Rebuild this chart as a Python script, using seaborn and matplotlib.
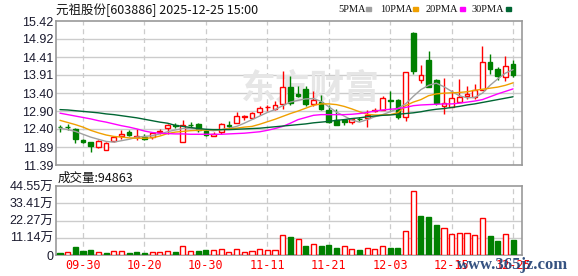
import numpy as np
import pandas as pd
import matplotlib
matplotlib.use("Agg")
import matplotlib.pyplot as plt
import seaborn as sns

# ---------------- data ----------------
dates = ["09-25", "09-26", "09-29", "09-30",
         "10-09", "10-10", "10-13", "10-14", "10-15", "10-16", "10-17", "10-20",
         "10-21", "10-22", "10-23", "10-24", "10-27", "10-28", "10-29", "10-30",
         "10-31", "11-03", "11-04", "11-05", "11-06", "11-07", "11-10", "11-11",
         "11-12", "11-13", "11-14", "11-17", "11-18", "11-19", "11-20", "11-21",
         "11-24", "11-25", "11-26", "11-27", "11-28", "12-01", "12-02", "12-03",
         "12-04", "12-05", "12-08", "12-09", "12-10", "12-11", "12-12", "12-15",
         "12-16", "12-17", "12-18", "12-19", "12-22", "12-23", "12-24", "12-25"]

open_ = [12.45, 12.45, 12.40, 12.09, 12.03, 11.88, 11.82, 12.05, 12.19, 12.30,
         12.17, 12.17, 12.17, 12.30, 12.42, 12.51, 12.03, 12.52, 12.54, 12.33,
         12.20, 12.30, 12.50, 12.56, 12.72, 12.70, 12.87, 13.00, 12.97, 13.10,
         13.58, 13.38, 13.53, 13.11, 13.15, 12.94, 12.66, 12.66, 12.59, 12.68,
         12.71, 12.91, 12.94, 13.20, 13.22, 12.73, 15.08, 13.77, 14.32, 13.76,
         13.05, 13.02, 13.16, 13.32, 13.29, 13.48, 14.28, 14.09, 13.86, 14.21]
close = [12.44, 12.44, 12.13, 12.04, 11.93, 12.07, 12.00, 12.17, 12.25, 12.24,
         12.21, 12.12, 12.28, 12.34, 12.51, 12.47, 12.51, 12.51, 12.38, 12.24,
         12.27, 12.54, 12.49, 12.76, 12.76, 12.85, 12.98, 13.01, 13.08, 13.58,
         13.13, 13.31, 13.10, 13.22, 12.96, 12.59, 12.52, 12.59, 12.68, 12.67,
         12.80, 12.93, 13.27, 13.19, 12.73, 14.00, 14.02, 13.90, 13.58, 13.13,
         13.13, 13.27, 13.30, 13.39, 13.50, 14.28, 14.09, 13.88, 14.16, 13.90]
high = [12.51, 12.54, 12.42, 12.12, 12.04, 12.10, 12.02, 12.20, 12.37, 12.36,
        12.40, 12.26, 12.31, 12.40, 12.54, 12.56, 12.66, 12.58, 12.56, 12.40,
        12.31, 12.57, 12.62, 12.86, 12.80, 12.88, 13.04, 13.08, 13.17, 14.02,
        13.88, 13.60, 13.60, 13.47, 13.36, 13.08, 12.96, 12.66, 12.71, 12.73,
        12.94, 12.98, 13.33, 13.47, 13.25, 14.00, 15.12, 14.18, 14.59, 13.80,
        13.82, 13.49, 13.80, 13.60, 13.67, 14.71, 14.49, 14.14, 14.44, 14.32]
low = [12.30, 12.36, 12.00, 12.00, 11.75, 11.86, 11.80, 12.03, 12.12, 12.19,
       12.09, 12.10, 12.12, 12.26, 12.27, 12.43, 12.03, 12.45, 12.31, 12.20,
       12.19, 12.27, 12.39, 12.56, 12.64, 12.70, 12.80, 12.90, 12.92, 12.96,
       13.08, 13.28, 13.03, 13.03, 12.92, 12.56, 12.50, 12.52, 12.54, 12.61,
       12.45, 12.88, 12.92, 12.93, 12.68, 12.61, 13.94, 13.69, 13.58, 13.08,
       12.82, 13.02, 13.16, 13.23, 13.23, 13.48, 13.95, 13.77, 13.74, 13.85]

ma5 = [12.42, 12.38, 12.33, 12.25, 12.17, 12.11, 12.05, 12.03, 12.07, 12.11,
       12.17, 12.19, 12.21, 12.26, 12.32, 12.37, 12.41, 12.42, 12.40, 12.37,
       12.35, 12.38, 12.42, 12.47, 12.56, 12.66, 12.76, 12.86, 12.94, 13.05,
       13.15, 13.20, 13.24, 13.25, 13.17, 13.02, 12.87, 12.76, 12.65, 12.59,
       12.66, 12.74, 12.80, 12.88, 12.97, 13.10, 13.31, 13.50, 13.62, 13.68,
       13.58, 13.45, 13.33, 13.27, 13.28, 13.40, 13.62, 13.80, 13.96, 14.06]
ma10 = [12.64, 12.58, 12.52, 12.45, 12.36, 12.29, 12.23, 12.19, 12.17, 12.15,
        12.14, 12.14, 12.15, 12.20, 12.27, 12.31, 12.33, 12.35, 12.36, 12.37,
        12.38, 12.38, 12.40, 12.42, 12.45, 12.47, 12.53, 12.60, 12.67, 12.75,
        12.83, 12.90, 12.98, 13.06, 13.10, 13.10, 13.08, 13.03, 12.96, 12.88,
        12.81, 12.79, 12.79, 12.80, 12.85, 13.05, 13.15, 13.22, 13.33, 13.38,
        13.40, 13.41, 13.42, 13.44, 13.48, 13.51, 13.54, 13.57, 13.62, 13.69]
ma20 = [12.84, 12.80, 12.76, 12.72, 12.68, 12.63, 12.59, 12.54, 12.49, 12.45,
        12.40, 12.34, 12.30, 12.28, 12.27, 12.26, 12.26, 12.25, 12.25, 12.25,
        12.25, 12.25, 12.26, 12.27, 12.28, 12.30, 12.32, 12.36, 12.41, 12.47,
        12.56, 12.66, 12.72, 12.78, 12.80, 12.80, 12.80, 12.80, 12.81, 12.83,
        12.86, 12.90, 12.93, 12.95, 12.97, 13.00, 13.05, 13.07, 13.08, 13.09,
        13.10, 13.10, 13.12, 13.15, 13.18, 13.22, 13.30, 13.38, 13.45, 13.52]
ma30 = [12.94, 12.93, 12.91, 12.89, 12.87, 12.85, 12.82, 12.80, 12.77, 12.74,
        12.71, 12.67, 12.63, 12.59, 12.56, 12.50, 12.47, 12.44, 12.41, 12.39,
        12.38, 12.38, 12.38, 12.39, 12.40, 12.41, 12.42, 12.44, 12.46, 12.48,
        12.50, 12.52, 12.54, 12.57, 12.59, 12.61, 12.64, 12.66, 12.69, 12.71,
        12.74, 12.76, 12.78, 12.79, 12.81, 12.83, 12.85, 12.88, 12.92, 12.95,
        12.97, 13.00, 13.03, 13.07, 13.10, 13.14, 13.18, 13.22, 13.26, 13.30]

# volume in 万 (10k shares), colour flag (1 = up/red)
volume = [1.3, 1.7, 5.2, 2.8, 3.2, 1.7, 1.3, 2.4, 2.4, 1.3,
          1.9, 1.3, 1.7, 1.7, 2.4, 1.9, 5.8, 2.4, 2.6, 3.2,
          3.0, 3.7, 1.7, 3.7, 1.7, 2.4, 3.7, 3.0, 3.0, 12.7,
          11.6, 10.1, 5.8, 6.9, 5.8, 6.5, 4.5, 5.6, 3.7, 3.2,
          4.3, 3.7, 5.6, 4.5, 4.5, 15.3, 41.1, 25.2, 24.5, 19.4,
          17.2, 13.3, 14.0, 14.0, 12.7, 23.7, 12.3, 9.0, 13.3, 9.49]
vol_up = [0, 1, 0, 0, 0, 1, 0, 1, 1, 0,
          0, 0, 1, 1, 1, 0, 1, 1, 0, 0,
          1, 1, 1, 1, 1, 1, 1, 1, 1, 1,
          0, 1, 0, 1, 0, 0, 0, 1, 1, 0,
          1, 1, 1, 0, 0, 1, 1, 0, 0, 0,
          1, 1, 1, 1, 1, 1, 0, 0, 1, 0]

price_ticks = [11.39, 11.89, 12.40, 12.90, 13.40, 13.91, 14.41, 14.92, 15.42]
price_tick_labels = ["11.39", "11.89", "12.40", "12.90", "13.40", "13.91", "14.41", "14.92", "15.42"]
vol_ticks = [0, 11.14, 22.27, 33.41, 44.55]
vol_tick_labels = ["0", "11.14万", "22.27万", "33.41万", "44.55万"]
xtick_labels = ["09-30", "10-20", "10-30", "11-11", "11-21", "12-03", "12-15", "12-25"]

title_text = "元祖股份[603886] 2025-12-25 15:00"
vol_title = "成交量:94863"
ma_names = ["5PMA", "10PMA", "20PMA", "30PMA"]
ma_colors = ["#a0a0a0", "#f0a000", "#ff00ff", "#006633"]

# ---------------- drawing ----------------
sns.set_theme(style="white")
plt.rcParams["font.family"] = ["Liberation Sans", "Noto Sans CJK SC", "DejaVu Sans"]

W, H = 578, 276
fig = plt.figure(figsize=(W / 100, H / 100), dpi=100)
fig.patch.set_facecolor("white")

def frac(l, t, r, b):
    return [l / W, 1 - b / H, (r - l) / W, (b - t) / H]

ax = fig.add_axes(frac(56, 21, 522, 165))
axv = fig.add_axes(frac(56, 186, 522, 255))

n = len(dates)
idx = np.arange(n)
xlim = (-0.52, 60.16)
tick_pos = [dates.index(d) for d in xtick_labels]

RED = "#ff0000"
GREEN = "#008000"
grid_c = "#cccccc"
spine_c = "#999999"

for a in (ax, axv):
    a.set_facecolor("white")
    a.set_xlim(*xlim)
    for s in a.spines.values():
        s.set_color(spine_c)
        s.set_linewidth(1.2)
    a.tick_params(length=0, pad=2)
    for p in tick_pos:
        a.axvline(p, color=grid_c, lw=0.9, ls=(0, (4, 3)), zorder=0)

# price panel
ax.set_ylim(price_ticks[0], price_ticks[-1])
for y in price_ticks[1:-1]:
    ax.axhline(y, color=grid_c, lw=1.0, zorder=0)
ax.set_yticks(price_ticks)
ax.set_yticklabels(price_tick_labels, fontsize=9, color="#1a1a2e")
ax.set_xticks([])

# watermark behind the candles
ax.text((310 - 56) / 466, (165 - 88) / 144, "东方财富", transform=ax.transAxes,
        fontsize=25, fontweight="bold", color="#e6e6e6", ha="center", va="center",
        family=["Noto Sans CJK SC"], zorder=1)

o = np.array(open_); c = np.array(close); hi = np.array(high); lo = np.array(low)
up = c >= o
col = np.where(up, RED, GREEN)
ax.vlines(idx, lo, hi, colors=col, lw=1.0, zorder=2)
body_bottom = np.minimum(o, c)
body_h = np.maximum(np.abs(c - o), 0.004)
ax.bar(idx, body_h, bottom=body_bottom, width=0.62,
       color=np.where(up, "white", GREEN), edgecolor=col, linewidth=1.0, zorder=3)

ma_df = pd.DataFrame({"idx": np.tile(idx, 4),
                      "value": np.concatenate([ma5, ma10, ma20, ma30]),
                      "ma": np.repeat(ma_names, n)})
sns.lineplot(data=ma_df, x="idx", y="value", hue="ma", palette=dict(zip(ma_names, ma_colors)),
             estimator=None, linewidth=1.0, legend=False, ax=ax, zorder=4)
ax.set_xlabel(""); ax.set_ylabel("")

# volume panel
axv.set_ylim(0, vol_ticks[-1])
for y in vol_ticks[1:-1]:
    axv.axhline(y, color=grid_c, lw=1.0, zorder=0)
vcol = [RED if u else GREEN for u in vol_up]
vface = ["white" if u else GREEN for u in vol_up]
axv.bar(idx, volume, width=0.66, color=vface, edgecolor=vcol, linewidth=1.0, zorder=3)
axv.set_yticks(vol_ticks)
axv.set_yticklabels(vol_tick_labels, fontsize=9, color="#1a1a2e",
                    family=["Liberation Sans", "Noto Sans CJK SC"])
axv.set_xticks(tick_pos)
axv.set_xticklabels(xtick_labels, fontsize=8.5, color=RED, family=["DejaVu Sans Mono"])
axv.tick_params(axis="x", pad=3)

# texts
fig.text(56 / W, 1 - 10 / H, title_text, fontsize=9, color="#111111", va="center", ha="left",
         family=["Noto Sans CJK SC", "DejaVu Sans"])
fig.text(58 / W, 1 - 178 / H, vol_title, fontsize=9, color="#111111", va="center", ha="left",
         family=["Noto Sans CJK SC", "DejaVu Sans"])

leg_x = [338, 380, 426, 472]
sq_x = [366, 413, 460, 506]
for name, colr, tx, sx in zip(ma_names, ma_colors, leg_x, sq_x):
    fig.text(tx / W, 1 - 9 / H, name, fontsize=7.5, color="#111111", va="center", ha="left",
             family=["Liberation Serif"])
    fig.patches.append(matplotlib.patches.Rectangle((sx / W, 1 - 11 / H), 5 / W, 4 / H,
                                                    transform=fig.transFigure, color=colr))

fig.text(457 / W, 1 - 265 / H, "www.365jz.com", fontsize=12, color="#1f3f73", va="center",
         ha="left", family=["Liberation Serif"], fontweight="bold", alpha=0.9)

fig.savefig("out.png", dpi=100, facecolor="white")
